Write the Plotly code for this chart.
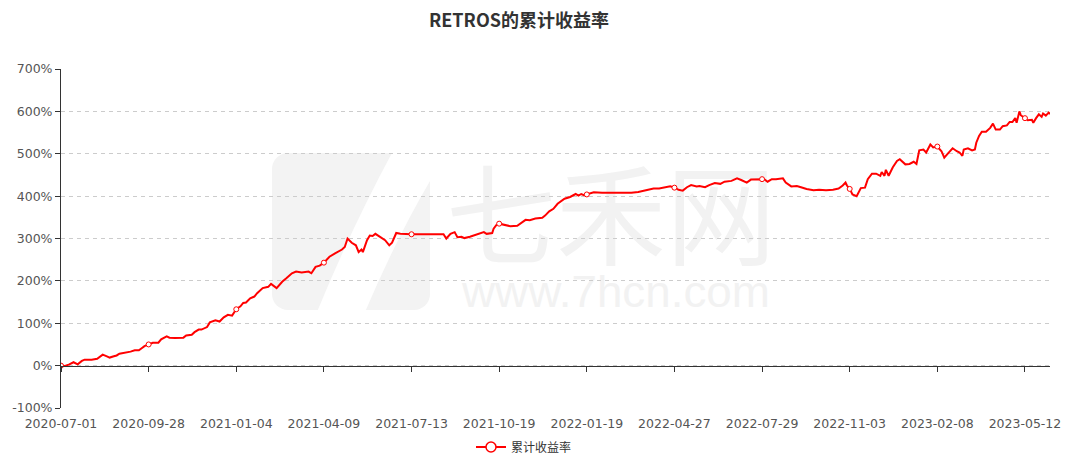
import base64
import plotly.graph_objects as go

# ---------------- data ----------------
title_text = "RETROS的累计收益率"
series_name = "累计收益率"
tick_labels = ["2020-07-01", "2020-09-28", "2021-01-04", "2021-04-09", "2021-07-13",
               "2021-10-19", "2022-01-19", "2022-04-27", "2022-07-29", "2022-11-03",
               "2023-02-08", "2023-05-12"]
label_interval = 63          # trading days between labelled dates
n_days = 712                 # number of trading days in the series
y_ticks = [-100, 0, 100, 200, 300, 400, 500, 600, 700]

# trading-day number (0 = 2020-07-01) and cumulative return in %
day_index = [0, 3, 6, 9, 12, 15, 17, 22, 26, 28, 30, 33, 35, 38, 40, 42, 46, 50, 53, 56,
             58, 60, 63, 66, 70, 72, 76, 78, 82, 88, 90, 94, 96, 99, 101, 105, 107, 111, 114, 117,
             120, 123, 126, 129, 131, 133, 136, 139, 141, 145, 149, 151, 155, 159, 162, 166, 169, 173, 178, 180,
             183, 186, 189, 193, 197, 199, 202, 204, 206, 209, 212, 214, 216, 217, 220, 222, 224, 226, 229, 233,
             236, 238, 241, 244, 252, 275, 277, 280, 283, 285, 288, 290, 294, 298, 301, 304, 306, 310, 311, 313,
             315, 320, 323, 328, 331, 334, 337, 341, 346, 348, 351, 354, 357, 360, 362, 366, 368, 370, 372, 374,
             376, 378, 383, 389, 400, 410, 415, 420, 426, 430, 435, 438, 441, 444, 447, 450, 453, 457, 459, 463,
             466, 470, 474, 477, 482, 486, 489, 493, 496, 500, 504, 506, 508, 511, 514, 519, 521, 525, 529, 532,
             536, 541, 545, 550, 555, 559, 562, 564, 565, 567, 569, 572, 575, 578, 580, 583, 586, 589, 590, 592,
             593, 595, 598, 601, 603, 607, 610, 613, 615, 617, 620, 622, 625, 627, 630, 633, 635, 638, 641, 644,
             646, 648, 649, 652, 655, 657, 658, 660, 662, 665, 668, 670, 672, 675, 677, 680, 682, 684, 686, 687,
             689, 690, 693, 695, 698, 699, 701, 703, 705, 706, 708, 710, 711]
cum_return = [0, -1, 3, 8, 3, 11, 14, 14, 16, 22, 26, 22, 19, 22, 24, 28, 30, 33, 36, 36,
              41, 46, 50, 54, 54, 62, 69, 66, 65, 66, 71, 73, 79, 85, 85, 91, 102, 107, 104, 114,
              120, 118, 133, 140, 148, 149, 159, 163, 171, 183, 186, 193, 183, 198, 206, 218, 222, 220, 222, 218,
              233, 236, 243, 257, 265, 268, 274, 280, 300, 290, 284, 268, 274, 268, 296, 307, 306, 311, 305, 296,
              284, 290, 313, 311, 310, 310, 300, 311, 315, 303, 304, 301, 304, 309, 311, 315, 311, 313, 323, 332,
              335, 332, 329, 330, 336, 344, 343, 347, 349, 354, 364, 370, 382, 390, 394, 398, 401, 405, 401, 405,
              402, 404, 409, 408, 408, 408, 410, 414, 418, 418, 421, 423, 420, 415, 413, 421, 426, 423, 424, 421,
              426, 431, 429, 434, 436, 442, 438, 432, 439, 440, 440, 439, 434, 440, 440, 442, 432, 423, 424, 421,
              417, 414, 415, 414, 415, 418, 425, 432, 425, 417, 404, 400, 419, 420, 440, 453, 453, 448, 457, 448,
              462, 448, 468, 483, 487, 475, 476, 481, 476, 508, 510, 503, 522, 515, 517, 506, 491, 502, 513, 506,
              503, 495, 510, 513, 508, 510, 526, 542, 552, 552, 561, 571, 557, 557, 565, 567, 575, 575, 584, 573,
              600, 591, 584, 579, 580, 573, 584, 593, 587, 595, 590, 597, 594]

# ---------------- styling ----------------
RED = "#ff0000"
AXIS = "#333333"
LABEL = "#555555"
GRID = "#cccccc"
TICK_FONT = dict(family="DejaVu Sans, Verdana, sans-serif", size=12.5, color=LABEL)
CJK = "Noto Sans CJK SC, sans-serif"

tick_pos = [i * label_interval for i in range(len(tick_labels))]
x_range = [0, n_days - 1]
y_range = [y_ticks[0], y_ticks[-1]]

mark_x = [d for d in day_index if d % label_interval == 0]
mark_y = [v for d, v in zip(day_index, cum_return) if d % label_interval == 0]

# ---------------- watermark (background image of the plot area) ----------------
W, H = 989, 339
svg = f'''<svg xmlns="http://www.w3.org/2000/svg" width="{W}" height="{H}" viewBox="0 0 {W} {H}">
<rect x="211" y="84" width="158" height="157" rx="16" ry="16" fill="#f3f3f3"/>
<path d="M256,243 L304,243 Q335,170 369,112 L369,82 L332,82 Q290,160 256,243 Z" fill="#ffffff"/>
<text x="550" y="140" font-family="Noto Sans CJK SC" font-size="110" fill="#f2f2f2"
 text-anchor="middle" dominant-baseline="central">七禾网</text>
<text x="401" y="238" font-family="Liberation Sans, Arial" font-size="44" fill="#f2f2f2"
 textLength="308" lengthAdjust="spacingAndGlyphs">www.7hcn.com</text>
</svg>'''
svg_uri = "data:image/svg+xml;base64," + base64.b64encode(svg.encode("utf-8")).decode("ascii")

fig = go.Figure()

fig.add_trace(go.Scatter(
    x=day_index, y=cum_return, mode="lines",
    line=dict(color=RED, width=2), showlegend=False, hoverinfo="skip"))

fig.add_trace(go.Scatter(
    x=mark_x, y=mark_y, mode="markers",
    marker=dict(symbol="circle", size=5, color="white", line=dict(color=RED, width=1)),
    showlegend=False, hoverinfo="skip"))

# legend entry + carrier of the zero-line axis
fig.add_trace(go.Scatter(
    x=[None], y=[None], mode="lines+markers", name=series_name, xaxis="x2",
    line=dict(color=RED, width=2),
    marker=dict(symbol="circle", size=10, color="white", line=dict(color=RED, width=1.5))))

fig.update_layout(
    width=1074, height=465,
    margin=dict(l=61, r=24, t=69, b=57, autoexpand=False),
    paper_bgcolor="white", plot_bgcolor="white",
    title=dict(text=title_text, x=519 / 1074, xref="container", xanchor="center",
               y=1 - 21 / 465, yref="container", yanchor="middle",
               font=dict(family=CJK, size=18, color="#333333", weight="bold")),
    xaxis=dict(range=x_range, tickmode="array", tickvals=tick_pos, ticktext=tick_labels,
               showline=False, showgrid=False, zeroline=False, ticks="outside",
               ticklen=4, tickcolor="rgba(0,0,0,0)", tickfont=TICK_FONT),
    xaxis2=dict(range=x_range, overlaying="x", anchor="free", position=0.125, side="bottom",
                tickmode="array", tickvals=tick_pos, showticklabels=False,
                ticks="outside", ticklen=5, tickcolor=AXIS, showline=True,
                linecolor=AXIS, linewidth=1, showgrid=False, zeroline=False),
    yaxis=dict(range=y_range, tickmode="array", tickvals=y_ticks,
               ticktext=[f"{v}%" for v in y_ticks],
               showgrid=True, gridcolor=GRID, griddash="4px,4px", gridwidth=1,
               showline=True, linecolor=AXIS, linewidth=1, ticks="outside",
               ticklen=5, tickcolor=AXIS, zeroline=False, tickfont=TICK_FONT),
    legend=dict(orientation="h", x=(524 - 61) / 989, xanchor="center",
                y=-(447 - 408) / 339, yanchor="middle",
                font=dict(family=CJK, size=12, color="#333333"),
                bgcolor="rgba(0,0,0,0)"),
    images=[dict(source=svg_uri, xref="paper", yref="paper", x=0, y=1,
                 sizex=1, sizey=1, xanchor="left", yanchor="top",
                 sizing="stretch", layer="below")],
)

fig.write_html("out.html", config={"displayModeBar": False},
               post_script="document.body.style.margin='0';document.body.style.padding='0';")
